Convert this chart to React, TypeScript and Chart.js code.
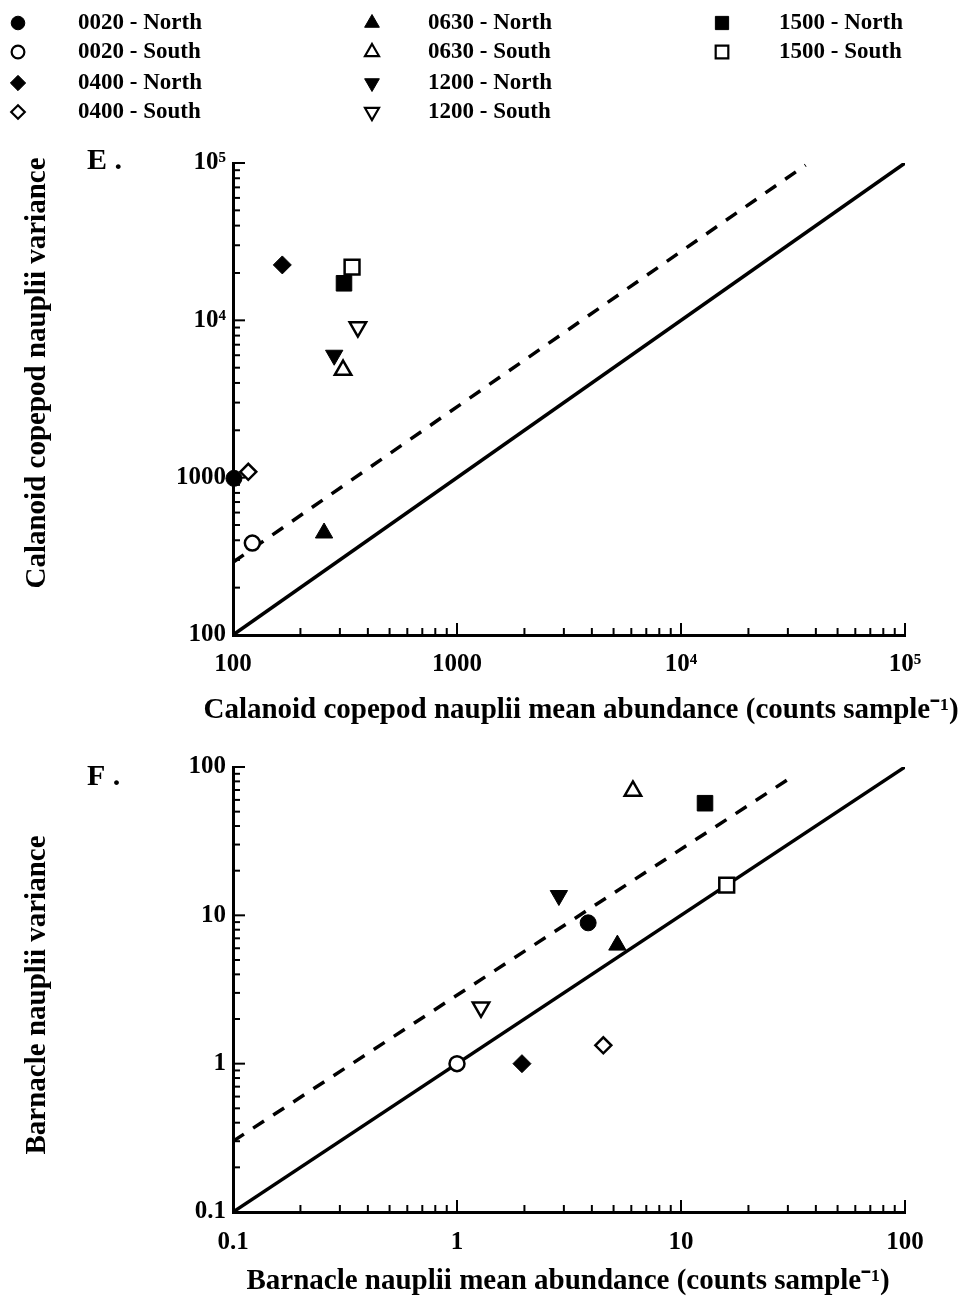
import React, { useEffect, useRef } from 'react';
import { Chart, registerables } from 'chart.js';
import { drawPoint } from 'chart.js/helpers';

Chart.register(...registerables);

// ---------------- data ----------------
const seriesNames = [
  '0020 - North', '0020 - South', '0400 - North', '0400 - South',
  '0630 - North', '0630 - South', '1200 - North', '1200 - South',
  '1500 - North', '1500 - South',
];

// Panel E: calanoid copepod nauplii
const copepodMean = [101, 122, 166, 117, 255, 310, 283, 361, 313, 340];
const copepodVariance = [990, 384, 22500, 1090, 445, 4830, 6000, 9060, 17200, 21800];

// Panel F: barnacle nauplii
const barnacleMean = [3.85, 1.0, 1.95, 4.5, 5.2, 6.1, 2.85, 1.28, 12.8, 16];
const barnacleVariance = [8.9, 1.0, 1.0, 1.33, 6.3, 69, 13.6, 2.4, 57, 16];

// reference lines (1:1 solid, fitted dashed)
const copepodOneToOne = [100, 100000];
const copepodDashX = [100, 36000];
const copepodDashY = [290, 97000];
const barnacleOneToOne = [0.1, 100];
const barnacleDashX = [0.1, 31];
const barnacleDashY = [0.3, 85];

// axis ticks
const copepodTickValues = [100, 1000, 10000, 100000];
const copepodTickLabels = ['100', '1000', '10\u2074', '10\u2075'];
const barnacleTickValues = [0.1, 1, 10, 100];
const barnacleTickLabels = ['0.1', '1', '10', '100'];

// ---------------- styles ----------------
const SERIF = "'Liberation Serif', 'Times New Roman', serif";

const markerStyles = [
  { style: 'circle', filled: true, rot: 0, r: 8 },
  { style: 'circle', filled: false, rot: 0, r: 7.5 },
  { style: 'rectRot', filled: true, rot: 0, r: 9 },
  { style: 'rectRot', filled: false, rot: 0, r: 8 },
  { style: 'triangle', filled: true, rot: 0, r: 10 },
  { style: 'triangle', filled: false, rot: 0, r: 9.5 },
  { style: 'triangle', filled: true, rot: 180, r: 10 },
  { style: 'triangle', filled: false, rot: 180, r: 9.5 },
  { style: 'rect', filled: true, rot: 0, r: 11 },
  { style: 'rect', filled: false, rot: 0, r: 10.5 },
];

const isDecade = (v: number) => Math.abs(Math.log10(v) - Math.round(Math.log10(v))) < 1e-9;

function logTicks(min: number, max: number) {
  const out: number[] = [];
  const e0 = Math.round(Math.log10(min));
  const e1 = Math.round(Math.log10(max));
  for (let e = e0; e < e1; e++) {
    for (let m = 1; m < 10; m++) out.push(+(m * Math.pow(10, e)).toPrecision(6));
  }
  out.push(max);
  return out;
}

const inwardTicks = {
  id: 'inwardTicks',
  afterDraw(chart: any) {
    const ctx = chart.ctx;
    const ca = chart.chartArea;
    ctx.save();
    ctx.strokeStyle = '#000';
    ctx.lineWidth = 2;
    const xs = chart.scales.x;
    const ys = chart.scales.y;
    xs.ticks.forEach((t: any) => {
      const p = xs.getPixelForValue(t.value);
      const len = isDecade(t.value) ? 12 : 7;
      ctx.beginPath();
      ctx.moveTo(p, ca.bottom);
      ctx.lineTo(p, ca.bottom - len);
      ctx.stroke();
    });
    ys.ticks.forEach((t: any) => {
      const p = ys.getPixelForValue(t.value);
      const len = isDecade(t.value) ? 12 : 7;
      ctx.beginPath();
      ctx.moveTo(ca.left, p);
      ctx.lineTo(ca.left + len, p);
      ctx.stroke();
    });
    ctx.restore();
  },
};

const panelText = {
  id: 'panelText',
  afterDraw(chart: any, _args: any, opts: any) {
    const ctx = chart.ctx;
    ctx.save();
    ctx.fillStyle = '#000';
    ctx.textBaseline = 'middle';
    ctx.font = `bold ${opts.titleSize}px ${SERIF}`;
    ctx.textAlign = 'center';
    ctx.fillText(opts.xTitle, opts.xTitleX, opts.xTitleY);
    ctx.save();
    ctx.translate(opts.yTitleX, opts.yTitleY);
    ctx.rotate(-Math.PI / 2);
    ctx.fillText(opts.yTitle, 0, 0);
    ctx.restore();
    ctx.font = `bold ${opts.panelSize}px ${SERIF}`;
    ctx.textAlign = 'left';
    ctx.fillText(opts.panel, opts.panelX, opts.panelY);
    ctx.restore();
  },
};

const seriesKey = {
  id: 'seriesKey',
  afterDraw(chart: any, _args: any, opts: any) {
    if (!opts || !opts.show) return;
    const ctx = chart.ctx;
    ctx.save();
    ctx.font = `bold ${opts.fontSize}px ${SERIF}`;
    ctx.textBaseline = 'middle';
    ctx.textAlign = 'left';
    seriesNames.forEach((name, i) => {
      const col = Math.floor(i / 4);
      const row = i % 4;
      const mx = opts.markerX[col];
      const tx = opts.textX[col];
      const y = opts.rowY[row];
      const m = markerStyles[i];
      ctx.fillStyle = m.filled ? '#000' : '#fff';
      ctx.strokeStyle = '#000';
      ctx.lineWidth = m.filled ? 1 : 2.2;
      drawPoint(ctx, { pointStyle: m.style, rotation: m.rot, radius: m.r * 0.85, borderWidth: m.filled ? 1 : 2.2 } as any, mx, y);
      ctx.fillStyle = '#000';
      ctx.fillText(name, tx, y);
    });
    ctx.restore();
  },
};

function makeConfig(p: any) {
  const tickFont = { family: SERIF, weight: 'bold' as const, size: 25 };
  const min = p.tickValues[0];
  const max = p.tickValues[p.tickValues.length - 1];
  const label = (v: any) => {
    const idx = p.tickValues.findIndex((t: number) => Math.abs(Math.log10(t) - Math.log10(Number(v))) < 1e-9);
    return idx >= 0 ? p.tickLabels[idx] : '';
  };
  const markerSets = seriesNames.map((name, i) => {
    const m = markerStyles[i];
    return {
      label: name,
      data: [{ x: p.mean[i], y: p.variance[i] }],
      pointStyle: m.style,
      pointRotation: m.rot,
      pointRadius: m.r,
      pointBorderWidth: m.filled ? 1 : 2.5,
      pointBackgroundColor: m.filled ? '#000' : '#fff',
      pointBorderColor: '#000',
      showLine: false,
      clip: false,
      order: 0,
    };
  });
  const lineSets = [
    {
      label: '1:1',
      data: p.oneToOne.map((v: number) => ({ x: v, y: v })),
      showLine: true,
      pointRadius: 0,
      borderColor: '#000',
      borderWidth: 3.5,
      order: 5,
    },
    {
      label: 'fit',
      data: p.dashX.map((x: number, j: number) => ({ x, y: p.dashY[j] })),
      showLine: true,
      pointRadius: 0,
      borderColor: '#000',
      borderWidth: 3.5,
      borderDash: [13, 11],
      order: 5,
    },
  ];
  const scaleBase = (isX: boolean) => ({
    type: 'logarithmic' as const,
    min,
    max,
    position: isX ? 'bottom' : 'left',
    afterFit: (s: any) => {
      if (isX) s.height = p.xAxisHeight;
      else s.width = p.yAxisWidth;
    },
    afterBuildTicks: (s: any) => {
      s.ticks = logTicks(min, max).map((v) => ({ value: v }));
    },
    ticks: {
      autoSkip: false,
      maxRotation: 0,
      minRotation: 0,
      padding: isX ? p.xPad : p.yPad,
      color: '#000',
      font: tickFont,
      callback: label,
    },
    grid: { display: true, drawOnChartArea: false, drawTicks: false, color: '#000' },
    border: { display: true, color: '#000', width: 3 },
  });
  return {
    type: 'scatter' as const,
    data: { datasets: [...markerSets, ...lineSets] },
    options: {
      animation: false as const,
      responsive: false,
      maintainAspectRatio: false,
      events: [],
      layout: { autoPadding: false, padding: { top: p.padTop, right: p.padRight, left: 0, bottom: 0 } },
      scales: { x: scaleBase(true), y: scaleBase(false) },
      plugins: {
        legend: { display: false },
        tooltip: { enabled: false },
        panelText: p.text,
        seriesKey: p.key,
      },
    },
    plugins: [inwardTicks, panelText, seriesKey],
  };
}

const TOP_H = 745;
const BOT_H = 1308 - TOP_H;

export default function App() {
  const topRef = useRef<HTMLCanvasElement>(null);
  const botRef = useRef<HTMLCanvasElement>(null);

  useEffect(() => {
    const top = new Chart(topRef.current as HTMLCanvasElement, makeConfig({
      mean: copepodMean,
      variance: copepodVariance,
      oneToOne: copepodOneToOne,
      dashX: copepodDashX,
      dashY: copepodDashY,
      tickValues: copepodTickValues,
      tickLabels: copepodTickLabels,
      padTop: 163,
      padRight: 65,
      xAxisHeight: TOP_H - 635,
      yAxisWidth: 233,
      xPad: 15,
      yPad: 7,
      text: {
        titleSize: 29,
        panelSize: 30,
        xTitle: 'Calanoid copepod nauplii mean abundance (counts sample\u207B\u00B9)',
        xTitleX: 581,
        xTitleY: 711,
        yTitle: 'Calanoid copepod nauplii variance',
        yTitleX: 38,
        yTitleY: 373,
        panel: 'E .',
        panelX: 87,
        panelY: 161,
      },
      key: {
        show: true,
        fontSize: 23,
        markerX: [18, 372, 722],
        textX: [78, 428, 779],
        rowY: [23, 52, 83, 112],
      },
    }) as any);
    const bot = new Chart(botRef.current as HTMLCanvasElement, makeConfig({
      mean: barnacleMean,
      variance: barnacleVariance,
      oneToOne: barnacleOneToOne,
      dashX: barnacleDashX,
      dashY: barnacleDashY,
      tickValues: barnacleTickValues,
      tickLabels: barnacleTickLabels,
      padTop: 763 - TOP_H,
      padRight: 65,
      xAxisHeight: 1308 - 1212,
      yAxisWidth: 233,
      xPad: 16,
      yPad: 7,
      text: {
        titleSize: 29,
        panelSize: 30,
        xTitle: 'Barnacle nauplii mean abundance (counts sample\u207B\u00B9)',
        xTitleX: 568,
        xTitleY: 1282 - TOP_H,
        yTitle: 'Barnacle nauplii variance',
        yTitleX: 38,
        yTitleY: 995 - TOP_H,
        panel: 'F .',
        panelX: 87,
        panelY: 777 - TOP_H,
      },
      key: { show: false },
    }) as any);
    return () => {
      top.destroy();
      bot.destroy();
    };
  }, []);

  return (
    <div style={{ position: 'absolute', left: 0, top: 0, width: 970, height: 1308, background: '#fff' }}>
      <canvas ref={topRef} width={970} height={TOP_H} style={{ display: 'block', width: 970, height: TOP_H }} />
      <canvas ref={botRef} width={970} height={BOT_H} style={{ display: 'block', width: 970, height: BOT_H }} />
    </div>
  );
}
